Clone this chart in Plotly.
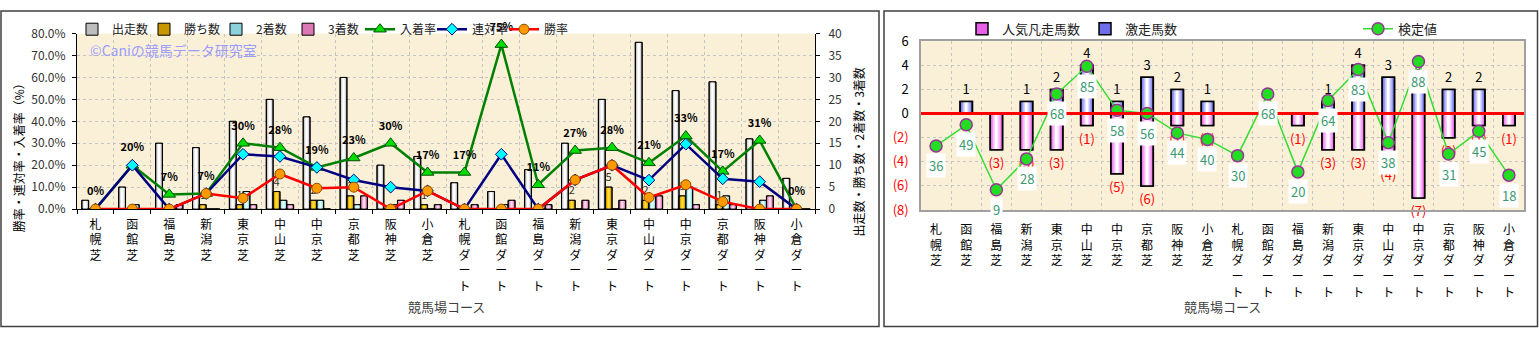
import plotly.graph_objects as go

W, H = 1539, 337
FONT = "Noto Sans CJK JP"


def fx(x):
    return x / W


def fy(y):
    return 1 - y / H


# ---------------- data ----------------
courses = ["札幌芝", "函館芝", "福島芝", "新潟芝", "東京芝", "中山芝", "中京芝", "京都芝", "阪神芝", "小倉芝",
           "札幌ダート", "函館ダート", "福島ダート", "新潟ダート", "東京ダート", "中山ダート", "中京ダート",
           "京都ダート", "阪神ダート", "小倉ダート"]
tick_text = ["<br>".join(c) for c in courses]

starts = [2, 5, 15, 14, 20, 25, 21, 30, 10, 12, 6, 4, 9, 15, 25, 38, 27, 29, 16, 7]        # 出走数
wins = [0, 0, 0, 1, 1, 4, 2, 3, 0, 1, 0, 0, 0, 2, 5, 2, 3, 1, 0, 0]                      # 勝ち数
seconds = [0, 1, 0, 0, 4, 2, 2, 1, 1, 0, 0, 1, 0, 0, 0, 3, 5, 3, 2, 0]                   # 2着数
thirds = [0, 0, 1, 0, 1, 1, 0, 3, 2, 1, 1, 2, 1, 2, 2, 3, 1, 1, 3, 0]                    # 3着数
place_rate = [0, 20.0, 6.7, 7.1, 30.0, 28.0, 19.0, 23.3, 30.0, 16.7,
              16.7, 75.0, 11.1, 26.7, 28.0, 21.1, 33.3, 17.2, 31.3, 0]                   # 入着率
quinella_rate = [0, 20.0, 0, 7.1, 25.0, 24.0, 19.0, 13.3, 10.0, 8.3,
                 0, 25.0, 0, 13.3, 20.0, 13.2, 29.6, 13.8, 12.5, 0]                      # 連対率
win_rate = [0, 0, 0, 7.1, 5.0, 16.0, 9.5, 10.0, 0, 8.3,
            0, 0, 0, 13.3, 20.0, 5.3, 11.1, 3.4, 0, 0]                                   # 勝率

surge = [0, 1, 0, 1, 2, 4, 1, 3, 2, 1, 0, 0, 0, 1, 4, 3, 3, 2, 2, 0]                     # 激走馬数
flop = [0, 0, 3, 3, 3, 1, 5, 6, 1, 1, 0, 0, 1, 3, 3, 4, 7, 2, 1, 1]                      # 人気凡走馬数
test_vals = [36, 49, 9, 28, 68, 85, 58, 56, 44, 40, 30, 68, 20, 64, 83, 38, 88, 31, 45, 18]  # 検定値

pct_ticks = [0, 10, 20, 30, 40, 50, 60, 70, 80]
right_ticks = [-8, -6, -4, -2, 0, 2, 4, 6]

fig = go.Figure()


def add_cyl(x, y, xa, ya, center, width, layers, line_color, line_w, name, legend,
            text=None, textfont=None):
    for k, (frac, color) in enumerate(layers):
        w = width * frac
        fig.add_trace(go.Bar(
            x=x, y=y, xaxis=xa, yaxis=ya, width=w, offset=center - w / 2,
            marker=dict(color=color, line=dict(color=line_color, width=line_w if k == 0 else 0)),
            name=name, legend=legend, showlegend=(k == 0), hoverinfo="skip"))
    kw = {}
    if text is not None:
        kw = dict(text=text, textposition="outside", textfont=textfont, constraintext="none")
    fig.add_trace(go.Bar(
        x=x, y=y, xaxis=xa, yaxis=ya, width=width, offset=center - width / 2,
        marker=dict(color="rgba(0,0,0,0)", line=dict(color=line_color, width=line_w)),
        showlegend=False, hoverinfo="skip", cliponaxis=False, **kw))


# ---------------- left panel ----------------
bw = 0.185
add_cyl(courses, starts, "x", "y", -1.5 * bw, bw, [(1, "#BDBDBD"), (0.6, "#E6E6E6"), (0.3, "#FFFFFF")],
        "#000000", 1, "出走数", "legend")
add_cyl(courses, wins, "x", "y", -0.5 * bw, bw, [(1, "#C89600"), (0.6, "#F0BE00"), (0.3, "#FFDC40")],
        "#000000", 1, "勝ち数", "legend",
        text=[str(v) if v else "" for v in wins], textfont=dict(size=11, color="#333333", family=FONT))
add_cyl(courses, seconds, "x", "y", 0.5 * bw, bw, [(1, "#8CD2DC"), (0.6, "#BDEFF2"), (0.3, "#E8FFFF")],
        "#000000", 1, "2着数", "legend")
add_cyl(courses, thirds, "x", "y", 1.5 * bw, bw, [(1, "#DC78B4"), (0.6, "#F0A8D2"), (0.3, "#FFD8EC")],
        "#000000", 1, "3着数", "legend")

fig.add_trace(go.Scatter(
    x=courses, y=place_rate, xaxis="x", yaxis="y2", mode="lines+markers", name="入着率", legend="legend",
    line=dict(color="#008000", width=2.5),
    marker=dict(symbol="triangle-up", size=11, color="#00DD00", line=dict(color="#005000", width=1)),
    hoverinfo="skip"))
fig.add_trace(go.Scatter(
    x=courses, y=quinella_rate, xaxis="x", yaxis="y2", mode="lines+markers", name="連対率", legend="legend",
    line=dict(color="#000080", width=2.5),
    marker=dict(symbol="diamond", size=9, color="#00FFFF", line=dict(color="#000080", width=1)),
    hoverinfo="skip"))
fig.add_trace(go.Scatter(
    x=courses, y=win_rate, xaxis="x", yaxis="y2", mode="lines+markers", name="勝率", legend="legend",
    line=dict(color="#FF0000", width=2.5),
    marker=dict(symbol="circle", size=10, color="#FF9900", line=dict(color="#8A4B00", width=1)),
    hoverinfo="skip"))
fig.add_trace(go.Scatter(
    x=courses, y=place_rate, xaxis="x", yaxis="y2", mode="markers+text",
    text=[f"<b>{v:.0f}%</b>" for v in place_rate], textposition="top center",
    textfont=dict(size=11, color="#000000", family=FONT),
    marker=dict(size=16, color="rgba(0,0,0,0)"), showlegend=False, hoverinfo="skip", cliponaxis=False))

# ---------------- right panel ----------------
rw = 0.41
add_cyl(courses, [-v for v in flop], "x2", "y3", 0, rw,
        [(1, "#E860E8"), (0.78, "#F290F2"), (0.55, "#F8BEF8"), (0.32, "#FDE4FD"), (0.12, "#FFFFFF")],
        "#000000", 1.5, "人気凡走馬数", "legend2",
        text=[f"({v})" if v else "" for v in flop], textfont=dict(size=13, color="#FF0000", family=FONT))
add_cyl(courses, surge, "x2", "y3", 0, rw,
        [(1, "#6E6EEA"), (0.78, "#9696F4"), (0.55, "#C2C2FA"), (0.32, "#E6E6FF"), (0.12, "#FFFFFF")],
        "#000000", 1.5, "激走馬数", "legend2",
        text=[str(v) if v else "" for v in surge], textfont=dict(size=13, color="#000000", family=FONT))

fig.add_trace(go.Scatter(
    x=courses, y=test_vals, xaxis="x2", yaxis="y4", mode="lines+markers", name="検定値", legend="legend3",
    line=dict(color="#33DD33", width=1.5),
    marker=dict(symbol="circle", size=12, color="#22DD22", line=dict(color="#993399", width=1.5)),
    hoverinfo="skip", cliponaxis=False))

annotations = []
for c, v in zip(courses, test_vals):
    annotations.append(dict(
        x=c, y=v, xref="x2", yref="y4", yshift=-20, text=str(v), showarrow=False,
        font=dict(size=13, color="#3C9A70", family=FONT), bgcolor="#FFFFFF", borderpad=2))

annotations += [
    dict(x=fx(88), y=fy(42), xref="paper", yref="paper", xanchor="left", yanchor="middle",
         text="©Caniの競馬データ研究室", showarrow=False, font=dict(size=14, color="#9C9CFF", family=FONT)),
    dict(x=fx(18), y=fy(154), xref="paper", yref="paper", xanchor="center", yanchor="middle",
         text="勝率・連対率・入着率（%）", textangle=-90, showarrow=False,
         font=dict(size=12, color="#000000", family=FONT)),
    dict(x=fx(858), y=fy(151), xref="paper", yref="paper", xanchor="center", yanchor="middle",
         text="出走数・勝ち数・2着数・3着数", textangle=-90, showarrow=False,
         font=dict(size=12, color="#000000", family=FONT)),
    dict(x=fx(446), y=fy(314), xref="paper", yref="paper", xanchor="center", yanchor="middle",
         text="競馬場コース", showarrow=False, font=dict(size=13, color="#404040", family=FONT)),
    dict(x=fx(1222), y=fy(314), xref="paper", yref="paper", xanchor="center", yanchor="middle",
         text="競馬場コース", showarrow=False, font=dict(size=13, color="#404040", family=FONT)),
]

shapes = [
    dict(type="rect", xref="paper", yref="paper", x0=fx(1), x1=fx(879), y0=fy(335.5), y1=fy(1),
         line=dict(color="#404040", width=1.5)),
    dict(type="rect", xref="paper", yref="paper", x0=fx(884), x1=fx(1537.5), y0=fy(335.5), y1=fy(1),
         line=dict(color="#404040", width=1.5)),
]

GRID = "#C4C4C4"
BG = "#FAF0D7"

fig.update_layout(
    width=W, height=H, margin=dict(l=0, r=0, t=0, b=0, pad=0),
    paper_bgcolor="#FFFFFF", plot_bgcolor=BG,
    font=dict(family=FONT, color="#000000"),
    barmode="overlay",
    showlegend=True,
    legend=dict(orientation="h", x=fx(72), y=fy(5), xanchor="left", yanchor="top",
                font=dict(size=12, color="#222222", family=FONT), bgcolor="rgba(0,0,0,0)",
                itemwidth=30, entrywidth=27, traceorder="normal"),
    legend2=dict(orientation="h", x=fx(962), y=fy(4), xanchor="left", yanchor="top",
                 font=dict(size=13, color="#222222", family=FONT), bgcolor="rgba(0,0,0,0)",
                 itemwidth=30, traceorder="normal"),
    legend3=dict(orientation="h", x=fx(1358), y=fy(4), xanchor="left", yanchor="top",
                 font=dict(size=13, color="#222222", family=FONT), bgcolor="rgba(0,0,0,0)",
                 itemwidth=30),
    xaxis=dict(domain=[fx(77), fx(815)], anchor="y", type="category", range=[-0.5, 19.5],
               tickmode="array", tickvals=courses, ticktext=tick_text, tickson="boundaries",
               ticks="outside", ticklen=4, tickcolor="#000000", ticklabelstandoff=4,
               showline=True, linecolor="#000000", linewidth=1,
               showgrid=True, gridcolor=GRID, griddash="dot", gridwidth=1,
               tickfont=dict(size=12, color="#000000", family=FONT), fixedrange=True),
    yaxis=dict(domain=[fy(211), fy(25)], anchor="x", side="right", range=[0, 40], dtick=5,
               showline=True, linecolor="#000000", ticks="outside", ticklen=4, tickcolor="#000000",
               ticklabelstandoff=6, showgrid=True, gridcolor=GRID, griddash="dot", zeroline=False,
               tickfont=dict(size=12, color="#333333", family=FONT), fixedrange=True),
    yaxis2=dict(overlaying="y", anchor="x", side="left", range=[0, 80], tickmode="array",
                tickvals=pct_ticks, ticktext=[f"{t:.1f}%" for t in pct_ticks],
                showline=True, linecolor="#000000", ticks="outside", ticklen=4, tickcolor="#000000",
                ticklabelstandoff=4, showgrid=False, zeroline=False,
                tickfont=dict(size=12, color="#333333", family=FONT), fixedrange=True),
    xaxis2=dict(domain=[fx(921), fx(1524)], anchor="y3", type="category", range=[-0.5, 19.5],
                tickmode="array", tickvals=courses, ticktext=tick_text, tickson="boundaries",
                ticks="", ticklabelstandoff=8,
                showline=True, mirror=True, linecolor="#A0A0A0", linewidth=1.5,
                showgrid=True, gridcolor=GRID, griddash="dot", gridwidth=1,
                tickfont=dict(size=12, color="#000000", family=FONT), fixedrange=True),
    yaxis3=dict(domain=[fy(212), fy(33)], anchor="x2", range=[-8, 6], tickmode="array",
                tickvals=right_ticks,
                ticktext=[(f'<span style="color:#FF0000">({-t})</span>' if t < 0 else str(t))
                          for t in right_ticks],
                ticks="", ticklabelstandoff=8,
                showline=True, mirror=True, linecolor="#A0A0A0", linewidth=1.5,
                showgrid=True, gridcolor=GRID, griddash="dot",
                zeroline=True, zerolinecolor="#FF0000", zerolinewidth=3,
                tickfont=dict(size=13, color="#000000", family=FONT), fixedrange=True),
    yaxis4=dict(overlaying="y3", anchor="x2", range=[-3.5, 100.5], visible=False, fixedrange=True),
    annotations=annotations,
    shapes=shapes,
)

try:
    fig.update_layout(yaxis3=dict(zerolinelayer="above traces"))
except Exception:
    fig.add_shape(type="line", xref="x2 domain", yref="y3", x0=0, x1=1, y0=0, y1=0,
                  line=dict(color="#FF0000", width=3), layer="above")

fig.write_html("out.html")
